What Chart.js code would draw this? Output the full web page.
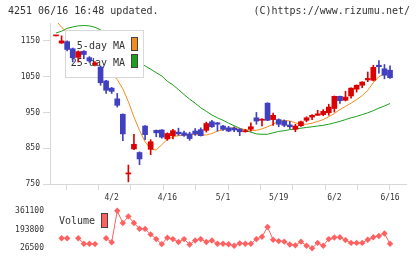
<!DOCTYPE html>
<html>
<head>
<meta charset="utf-8">
<script src="https://cdn.jsdelivr.net/npm/chart.js@4.4.1/dist/chart.umd.min.js"></script>
<style>
  html, body { margin: 0; padding: 0; background: #fff; }
  #wrap { position: relative; width: 420px; height: 259px; overflow: hidden; }
  .hdr { position: absolute; top: 5px; font: 10px "DejaVu Sans Mono", monospace; color: #333; white-space: pre; }
  #price { position: absolute; left: 0; top: 0; width: 420px; height: 210px; }
  #vol { position: absolute; left: 0; top: 200px; width: 420px; height: 59px; }
</style>
</head>
<body>
<div id="wrap">
  <canvas id="price" width="420" height="210"></canvas>
  <canvas id="vol" width="420" height="59"></canvas>
  <div class="hdr" style="left:8px">4251 06/16 16:48 updated.</div>
  <div class="hdr" style="right:10px">(C)https://www.rizumu.net/</div>
</div>
<script>
// datos diarios (índice 0 = 3/18 ... 60 = 6/16)
const opens  = [1164,1144,1148,1128,1104,1121,1103,1084,1077,1038,1018,988,945,778,848,838,912,847,900,901,
                876,885,895,893,890,898,902,900,924,921,912,907,906,903,896,903,935,928,976,930,
                930,926,915,903,913,928,937,942,944,949,961,995,984,996,1015,1026,1041,1040,1082,1072,1068];
const closes = [1165,1150,1126,1103,1120,1112,1094,1088,1033,1012,1009,970,890,781,861,820,888,868,893,881,
                891,899,890,886,877,890,885,919,910,917,903,898,901,896,899,910,926,931,928,942,
                917,914,910,912,924,935,942,946,953,965,995,983,993,1018,1026,1035,1045,1076,1078,1054,1047];
const highs  = [1165,1164,1150,1130,1122,1123,1106,1092,1080,1040,1020,1003,946,803,889,840,913,874,901,902,
                893,903,906,898,895,905,907,923,928,922,914,911,910,905,903,921,950,933,977,948,
                932,929,925,917,926,938,944,956,958,973,996,996,1009,1019,1027,1036,1063,1082,1095,1084,1080];
const lows   = [1164,1143,1122,1091,1091,1100,1090,1080,1026,1003,1003,965,871,756,846,804,874,832,882,878,
                872,876,886,883,872,886,884,895,908,898,900,896,896,885,895,898,917,912,927,914,
                910,910,905,896,911,924,930,942,941,942,951,975,982,990,1007,1019,1036,1038,1060,1044,1045];

// medias móviles
const ma5  = [1207,1188,1173,1158,1143,1128,1115,1104,1090,1075,1058,1042,1016,980,937,900,868,848,845,860,
              875,882,885,886,889,888,887,887,891,898,901,905,908,905,902,900,900,904,910,917,
              926,928,926,921,917,917,920,925,930,938,947,958,967,976,986,997,1012,1033,1050,1058,1061];
const ma25 = [1172,1177,1185,1189,1192,1193,1192,1188,1181,1170,1157,1143,1128,1114,1101,1092,1080,1071,1061,1052,
              1037,1027,1014,1000,987,976,963,953,943,935,928,920,913,906,900,895,890,889,889,893,
              897,899,902,904,906,908,910,912,914,917,921,925,930,935,939,944,949,955,962,968,975];

// volumen (null = sin dato)
const volumes = [null,116000,116000,null,116000,66000,66000,63000,null,116000,80000,361100,252000,311000,252000,200000,199000,150000,108000,63000,
                 120000,108000,82000,108000,60000,96000,108000,82000,96000,66000,66000,62000,48000,70000,66000,66000,108000,129000,216000,102000,
                 90000,85000,60000,52000,85000,49000,26500,74000,49000,108000,122000,124000,99000,74000,74000,74000,102000,124000,136000,158000,66000];

const labelIdx  = [10, 20, 30, 40, 50, 60];
const labelText = ['4/2', '4/16', '5/1', '5/19', '6/2', '6/16'];
const priceTicks = [750, 850, 950, 1050, 1150];
const volTicks = [26500, 193800, 361100];
const maNames = ['5-day MA', '25-day MA'];

const UP = '#dc0000', DOWN = '#4040c0';
const maColors = ['#f28c1c', '#1aa01a'];
const VOLC = '#ff6060';
const GRID = '#d8d8d8';
const X_MIN = -1.08, X_MAX = 62.87;
const tickFont = { family: 'DejaVu Sans Mono', size: 8 };

const idx = opens.map((_, i) => i);
const isUp = i => closes[i] >= opens[i];

// leyenda de medias, dibujada entre las líneas y las velas
const priceLegend = {
  id: 'priceLegend',
  beforeDatasetDraw(chart, args) {
    if (args.index !== 2) return;
    const ctx = chart.ctx;
    ctx.save();
    ctx.fillStyle = '#fff';
    ctx.fillRect(65.5, 30.5, 78, 47);
    ctx.strokeStyle = GRID;
    ctx.lineWidth = 1;
    ctx.strokeRect(65.5, 30.5, 78, 47);
    ctx.font = '10px "DejaVu Sans Mono"';
    ctx.textAlign = 'right';
    ctx.textBaseline = 'middle';
    maNames.forEach((name, k) => {
      const y = 46 + k * 17;
      ctx.fillStyle = '#333';
      ctx.fillText(name, 125, y);
      ctx.fillStyle = maColors[k];
      ctx.fillRect(131.5, y - 8.5, 6, 13);
      ctx.strokeStyle = '#444';
      ctx.strokeRect(131.5, y - 8.5, 6, 13);
    });
    ctx.restore();
  }
};

new Chart(document.getElementById('price'), {
  type: 'bar',
  data: {
    datasets: [
      { type: 'line', data: idx.map(i => ({ x: i, y: ma5[i] })), borderColor: maColors[0], borderWidth: 1, pointRadius: 0, order: 3 },
      { type: 'line', data: idx.map(i => ({ x: i, y: ma25[i] })), borderColor: maColors[1], borderWidth: 1, pointRadius: 0, order: 3 },
      { data: idx.map(i => ({ x: i, y: [lows[i], highs[i]] })), barThickness: 1, grouped: false, order: 2,
        backgroundColor: c => isUp(c.dataIndex) ? UP : DOWN },
      { data: idx.map(i => ({ x: i, y: [opens[i], closes[i]] })), barThickness: 5, grouped: false, minBarLength: 1, order: 1,
        backgroundColor: c => isUp(c.dataIndex) ? UP : DOWN }
    ]
  },
  options: {
    responsive: false,
    animation: false,
    devicePixelRatio: 1,
    layout: { padding: { top: 23, right: 14, left: 0, bottom: 6 } },
    plugins: { legend: { display: false }, tooltip: { enabled: false } },
    scales: {
      x: {
        type: 'linear', min: X_MIN, max: X_MAX, offset: false, weight: 0,
        grid: { drawOnChartArea: false, color: GRID, tickLength: 6 },
        border: { color: GRID },
        ticks: { display: false },
        afterBuildTicks: s => { s.ticks = Array.from({ length: 12 }, (_, k) => ({ value: X_MIN + k * (X_MAX - X_MIN) / 11 })); },
        afterFit: s => { s.height = 6; }
      },
      xl: {
        type: 'linear', position: 'bottom', min: X_MIN, max: X_MAX, offset: false, weight: 1,
        grid: { display: false, drawTicks: false },
        border: { display: false },
        ticks: { font: tickFont, color: '#333', padding: 3, autoSkip: false, maxRotation: 0,
                 callback: v => labelText[labelIdx.indexOf(v)] },
        afterBuildTicks: s => { s.ticks = labelIdx.map(v => ({ value: v })); },
        afterFit: s => { s.height = 14; }
      },
      y: {
        min: 750, max: 1200,
        grid: { drawOnChartArea: false, color: GRID, tickLength: 7 },
        border: { color: GRID },
        ticks: { font: tickFont, color: '#333', padding: 3, callback: v => String(v) },
        afterBuildTicks: s => { s.ticks = priceTicks.map(v => ({ value: v })); },
        afterFit: s => { s.width = 50; }
      }
    }
  },
  plugins: [priceLegend]
});

const volLegend = {
  id: 'volLegend',
  afterDraw(chart) {
    const ctx = chart.ctx;
    ctx.save();
    ctx.font = '10px "DejaVu Sans Mono"';
    ctx.fillStyle = '#333';
    ctx.textBaseline = 'middle';
    ctx.fillText('Volume', 59, 21);
    ctx.fillStyle = VOLC;
    ctx.fillRect(101.5, 13.5, 6, 14);
    ctx.strokeStyle = '#444';
    ctx.strokeRect(101.5, 13.5, 6, 14);
    ctx.restore();
  }
};

new Chart(document.getElementById('vol'), {
  type: 'line',
  data: {
    datasets: [{
      data: idx.map(i => ({ x: i, y: volumes[i] })),
      borderColor: VOLC, borderWidth: 1, backgroundColor: VOLC,
      pointStyle: 'rectRot', pointRadius: 3.2, pointBorderWidth: 0,
      spanGaps: false, clip: false
    }]
  },
  options: {
    responsive: false,
    animation: false,
    devicePixelRatio: 1,
    layout: { padding: { top: 9, right: 14, left: 0, bottom: 10 } },
    plugins: { legend: { display: false }, tooltip: { enabled: false } },
    scales: {
      x: { type: 'linear', min: X_MIN, max: X_MAX, display: false },
      y: {
        min: 26500, max: 361100,
        grid: { display: false, drawTicks: false },
        border: { display: false },
        ticks: { font: tickFont, color: '#333', padding: 6, callback: v => String(v) },
        afterBuildTicks: s => { s.ticks = volTicks.map(v => ({ value: v })); },
        afterFit: s => { s.width = 50; }
      }
    }
  },
  plugins: [volLegend]
});
</script>
</body>
</html>
